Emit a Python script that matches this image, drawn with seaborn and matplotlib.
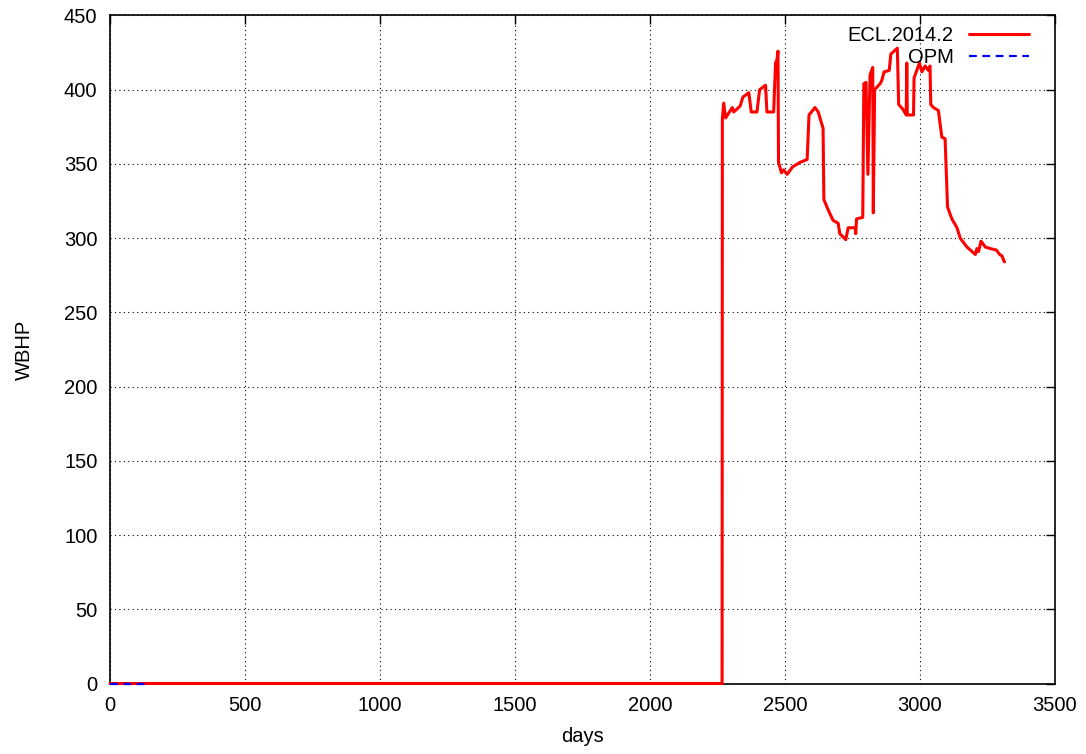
import matplotlib
matplotlib.use("Agg")
import matplotlib.pyplot as plt
import seaborn as sns
import pandas as pd

# Well bottom-hole pressure (WBHP) versus simulation time
ecl_days = [0, 2267, 2268, 2273, 2280, 2305, 2310, 2334, 2344, 2366, 2375, 2396,
            2406, 2428, 2433, 2458, 2465, 2470, 2474, 2476, 2487, 2495, 2508, 2528,
            2555, 2582, 2589, 2611, 2623, 2641, 2644, 2660, 2678, 2697, 2703, 2725,
            2734, 2760, 2762, 2765, 2788, 2792, 2800, 2807, 2815, 2825, 2827, 2832,
            2852, 2858, 2867, 2886, 2892, 2916, 2921, 2936, 2949, 2951, 2953, 2976,
            2978, 2982, 2998, 3007, 3019, 3031, 3037, 3040, 3050, 3068, 3081, 3093,
            3102, 3118, 3137, 3149, 3174, 3205, 3211, 3217, 3226, 3242, 3260, 3283,
            3295, 3304, 3310, 3313]
ecl_wbhp = [0, 0, 380, 391, 381, 388, 385, 389, 395, 398, 385, 385,
            400, 403, 385, 385, 418, 420, 426, 351, 344, 346, 343, 348,
            351, 353, 383, 388, 385, 374, 326, 319, 312, 310, 303, 299,
            307, 307, 303, 313, 314, 404, 405, 343, 410, 415, 317, 400,
            404, 406, 412, 413, 424, 428, 390, 387, 383, 418, 383, 383,
            408, 410, 418, 412, 416, 413, 416, 390, 388, 386, 368, 367,
            321, 313, 307, 300, 294, 289, 293, 291, 298, 294, 293, 292,
            289, 288, 285, 284]

opm_days = [0, 133]
opm_wbhp = [0, 0]

x_ticks = [0, 500, 1000, 1500, 2000, 2500, 3000, 3500]
y_ticks = [0, 50, 100, 150, 200, 250, 300, 350, 400, 450]

ecl = pd.DataFrame({"days": ecl_days, "WBHP": ecl_wbhp})
opm = pd.DataFrame({"days": opm_days, "WBHP": opm_wbhp})

sns.set_style("white")
plt.rcParams["font.family"] = ["Liberation Sans", "DejaVu Sans"]
plt.rcParams["text.color"] = "black"
plt.rcParams["axes.labelcolor"] = "black"

fs = 14.5

fig = plt.figure(figsize=(10.86, 7.54), dpi=100)
ax = fig.add_axes([110 / 1086, 1 - 683.5 / 754, (1055 - 110) / 1086, (683.5 - 15.5) / 754])

sns.lineplot(data=ecl, x="days", y="WBHP", ax=ax, color="#ff0000", lw=2.2,
             label="ECL.2014.2", estimator=None, sort=False)
sns.lineplot(data=opm, x="days", y="WBHP", ax=ax, color="#0000ff", lw=1.6,
             label="OPM", estimator=None, sort=False)
ax.lines[-1].set_linestyle((0, (3.5, 2.5)))
for ln in ax.lines:
    ln.set_zorder(3)
    ln.set_clip_on(False)

ax.set_xlim(0, 3500)
ax.set_ylim(0, 450)
ax.set_xticks(x_ticks)
ax.set_yticks(y_ticks)
ax.grid(True, color="black", linestyle=(0, (1, 3)), linewidth=0.8)
ax.set_axisbelow(True)

for side in ax.spines.values():
    side.set_visible(True)
    side.set_color("black")
    side.set_linewidth(1.2)

ax.tick_params(direction="in", length=6.5, width=1.0, top=True, right=True,
               labelsize=fs, colors="black", pad=9)
ax.set_xlabel("days", fontsize=fs, color="black", labelpad=9)
ax.set_ylabel("WBHP", fontsize=fs, color="black", labelpad=22)

leg = ax.legend(loc="upper right", bbox_to_anchor=(1 - 18 / 945, 1 - 2 / 668),
                frameon=False, markerfirst=False, fontsize=fs,
                handlelength=3.0, borderaxespad=0.0, labelspacing=0.15,
                handletextpad=0.75)
for t in leg.get_texts():
    t.set_color("black")

fig.savefig("out.png", dpi=100)
